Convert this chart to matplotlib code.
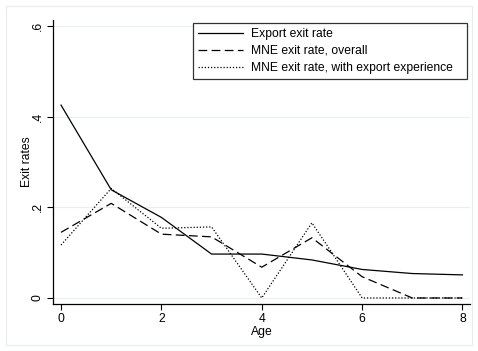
import matplotlib
matplotlib.use("Agg")
import matplotlib.pyplot as plt
from matplotlib.patches import Rectangle

plt.rcParams['font.family'] = ['Liberation Sans', 'DejaVu Sans']

age = [0, 1, 2, 3, 4, 5, 6, 7, 8]
export_exit = [0.426, 0.239, 0.178, 0.097, 0.097, 0.084, 0.063, 0.054, 0.051]
mne_overall = [0.145, 0.209, 0.141, 0.135, 0.068, 0.133, 0.047, 0.0, 0.0]
mne_export_exp = [0.117, 0.242, 0.154, 0.157, 0.0, 0.166, 0.0, 0.0, 0.0]
labels = ["Export exit rate", "MNE exit rate, overall", "MNE exit rate, with export experience"]
yticks = [0, 0.2, 0.4, 0.6]
ytick_labels = ["0", ".2", ".4", ".6"]
xticks = [0, 2, 4, 6, 8]

fig = plt.figure(figsize=(4.78, 3.51), dpi=100)
fig.patches.append(Rectangle((6/478, 6/351), 1 - 12/478, 1 - 12/351, transform=fig.transFigure,
                             fill=False, edgecolor='#e6edf1', linewidth=0.8))
ax = fig.add_axes([53/478, 47/351, 417/478, 284/351])

for y in yticks:
    ax.axhline(y, color='#eaf0f2', linewidth=0.9, zorder=0)

ax.plot(age, export_exit, color='black', linewidth=0.9, label=labels[0])
ax.plot(age, mne_overall, color='black', linewidth=0.9, linestyle=(0, (7, 3.5)), label=labels[1])
ax.plot(age, mne_export_exp, color='black', linewidth=0.9, linestyle=(0, (1, 1.5)), label=labels[2])

ax.set_xlim(-0.16, 8.15)
ax.set_ylim(-0.0133, 0.614)
ax.set_xticks(xticks)
ax.set_yticks(yticks)
ax.set_yticklabels(ytick_labels, rotation=90, va='center')
ax.tick_params(axis='both', labelsize=8.75, length=4.5, width=0.8, color='black', pad=2)
for s in ['top', 'right']:
    ax.spines[s].set_visible(False)
for s in ['left', 'bottom']:
    ax.spines[s].set_linewidth(0.9)
ax.set_xlabel("Age", fontsize=8.75, labelpad=1)
ax.set_ylabel("Exit rates", fontsize=8.75, va='center')
ax.yaxis.set_label_coords(-0.0624, (351 - 162) / 351 * 351 / 284 - 47 / 284)

leg = ax.legend(loc='upper left', bbox_to_anchor=(193/478, (351-79)/351, (467-193)/478, 56/351),
                bbox_transform=fig.transFigure, mode='expand',
                fontsize=8.75, frameon=True, fancybox=False, handlelength=3.7, handletextpad=0.7,
                borderpad=0.4, labelspacing=0.42, borderaxespad=0)
leg.get_frame().set_edgecolor('black')
leg.get_frame().set_linewidth(0.9)

fig.savefig("out.png", dpi=100, facecolor='white')
